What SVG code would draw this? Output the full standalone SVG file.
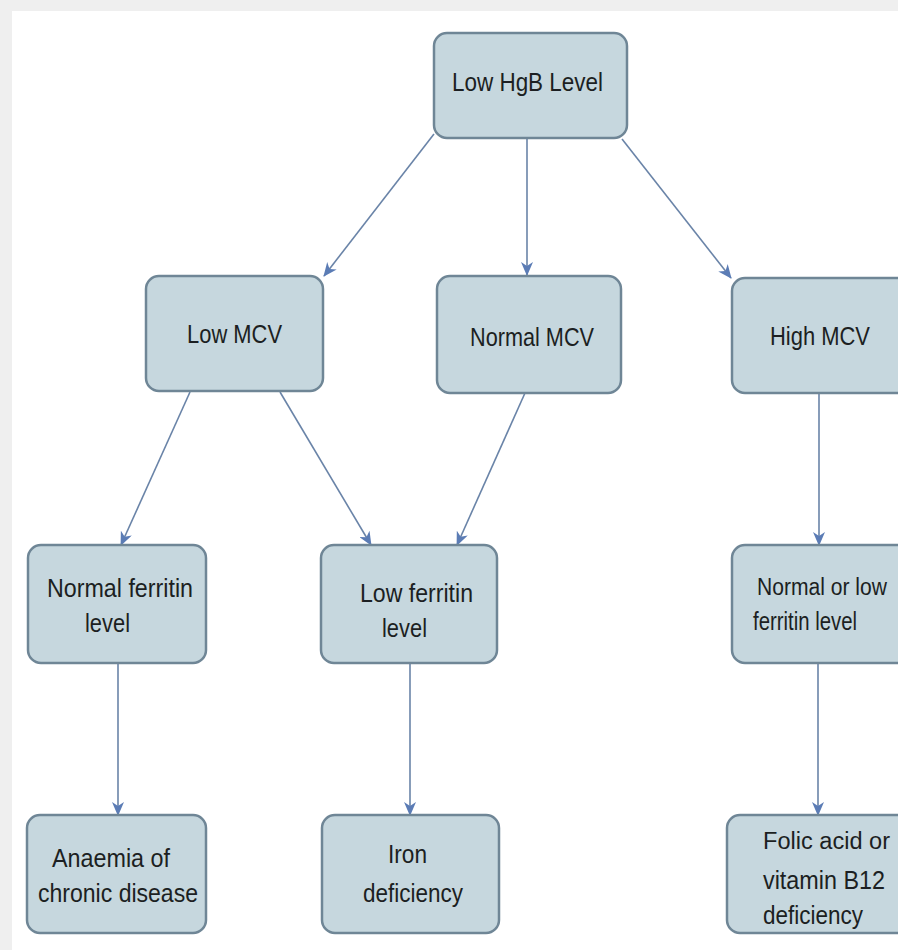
<svg xmlns="http://www.w3.org/2000/svg" width="898" height="950" viewBox="0 0 898 950">
<style>
.box{fill:#c6d7de;stroke:#6f8696;stroke-width:2.5}
.t{font-family:"Liberation Sans",Arial,sans-serif;font-size:25.5px;fill:#1c1f22}
.s{font-size:23px}
.c{fill:none;stroke:#6a84a8;stroke-width:1.6;marker-end:url(#ah)}
</style>
<defs>
<marker id="ah" viewBox="0 0 14 12" refX="13" refY="6" markerWidth="14" markerHeight="12" markerUnits="userSpaceOnUse" orient="auto">
<path d="M0,0 L14,6 L0,12 L4,6 z" fill="#5b7cb5"/>
</marker>
</defs>
<rect x="0" y="0" width="898" height="950" fill="#efefef"/>
<rect x="12" y="11" width="886" height="939" fill="#ffffff"/>
<g id="connectors">
<line class="c" x1="434" y1="134" x2="324" y2="276"/>
<line class="c" x1="527" y1="139" x2="527" y2="275"/>
<line class="c" x1="622" y1="139" x2="731" y2="278"/>
<line class="c" x1="190" y1="392" x2="121" y2="545"/>
<line class="c" x1="280" y1="392" x2="371" y2="545"/>
<line class="c" x1="525" y1="393" x2="457" y2="545"/>
<line class="c" x1="819" y1="393" x2="819" y2="545"/>
<line class="c" x1="118" y1="663" x2="118" y2="815"/>
<line class="c" x1="410" y1="663" x2="410" y2="815"/>
<line class="c" x1="818" y1="663" x2="818" y2="815"/>
</g>
<g id="n-hgb"><rect class="box" x="434" y="33" width="193" height="105" rx="13"/>
<text class="t" x="452" y="91" textLength="151" lengthAdjust="spacingAndGlyphs">Low HgB Level</text></g>
<g id="n-lowmcv"><rect class="box" x="146" y="276" width="177" height="115" rx="13"/>
<text class="t" x="187" y="343" textLength="95" lengthAdjust="spacingAndGlyphs">Low MCV</text></g>
<g id="n-normalmcv"><rect class="box" x="437" y="276" width="184" height="117" rx="13"/>
<text class="t" x="470" y="346" textLength="124" lengthAdjust="spacingAndGlyphs">Normal MCV</text></g>
<g id="n-highmcv"><rect class="box" x="732" y="278" width="190" height="115" rx="13"/>
<text class="t" x="770" y="345" textLength="100" lengthAdjust="spacingAndGlyphs">High MCV</text></g>
<g id="n-normalferritin"><rect class="box" x="28" y="545" width="178" height="118" rx="13"/>
<text class="t" x="47" y="597" textLength="146" lengthAdjust="spacingAndGlyphs">Normal ferritin</text>
<text class="t" x="85" y="632" textLength="45" lengthAdjust="spacingAndGlyphs">level</text></g>
<g id="n-lowferritin"><rect class="box" x="321" y="545" width="176" height="118" rx="13"/>
<text class="t" x="360" y="602" textLength="113" lengthAdjust="spacingAndGlyphs">Low ferritin</text>
<text class="t" x="382" y="637" textLength="45" lengthAdjust="spacingAndGlyphs">level</text></g>
<g id="n-normallowferritin"><rect class="box" x="732" y="545" width="190" height="118" rx="13"/>
<text class="t s" x="757" y="595" textLength="130" lengthAdjust="spacingAndGlyphs">Normal or low</text>
<text class="t" x="753" y="630" textLength="104" lengthAdjust="spacingAndGlyphs">ferritin level</text></g>
<g id="n-anaemia"><rect class="box" x="27" y="815" width="179" height="118" rx="13"/>
<text class="t" x="52" y="867" textLength="118" lengthAdjust="spacingAndGlyphs">Anaemia of</text>
<text class="t" x="38" y="902" textLength="160" lengthAdjust="spacingAndGlyphs">chronic disease</text></g>
<g id="n-iron"><rect class="box" x="322" y="815" width="177" height="118" rx="13"/>
<text class="t" x="388" y="863" textLength="39" lengthAdjust="spacingAndGlyphs">Iron</text>
<text class="t" x="363" y="902" textLength="100" lengthAdjust="spacingAndGlyphs">deficiency</text></g>
<g id="n-folic"><rect class="box" x="727" y="815" width="195" height="118" rx="13"/>
<text class="t s" x="763" y="849" textLength="127" lengthAdjust="spacingAndGlyphs">Folic acid or</text>
<text class="t" x="763" y="889" textLength="122" lengthAdjust="spacingAndGlyphs">vitamin B12</text>
<text class="t" x="763" y="924" textLength="100" lengthAdjust="spacingAndGlyphs">deficiency</text></g>
</svg>
